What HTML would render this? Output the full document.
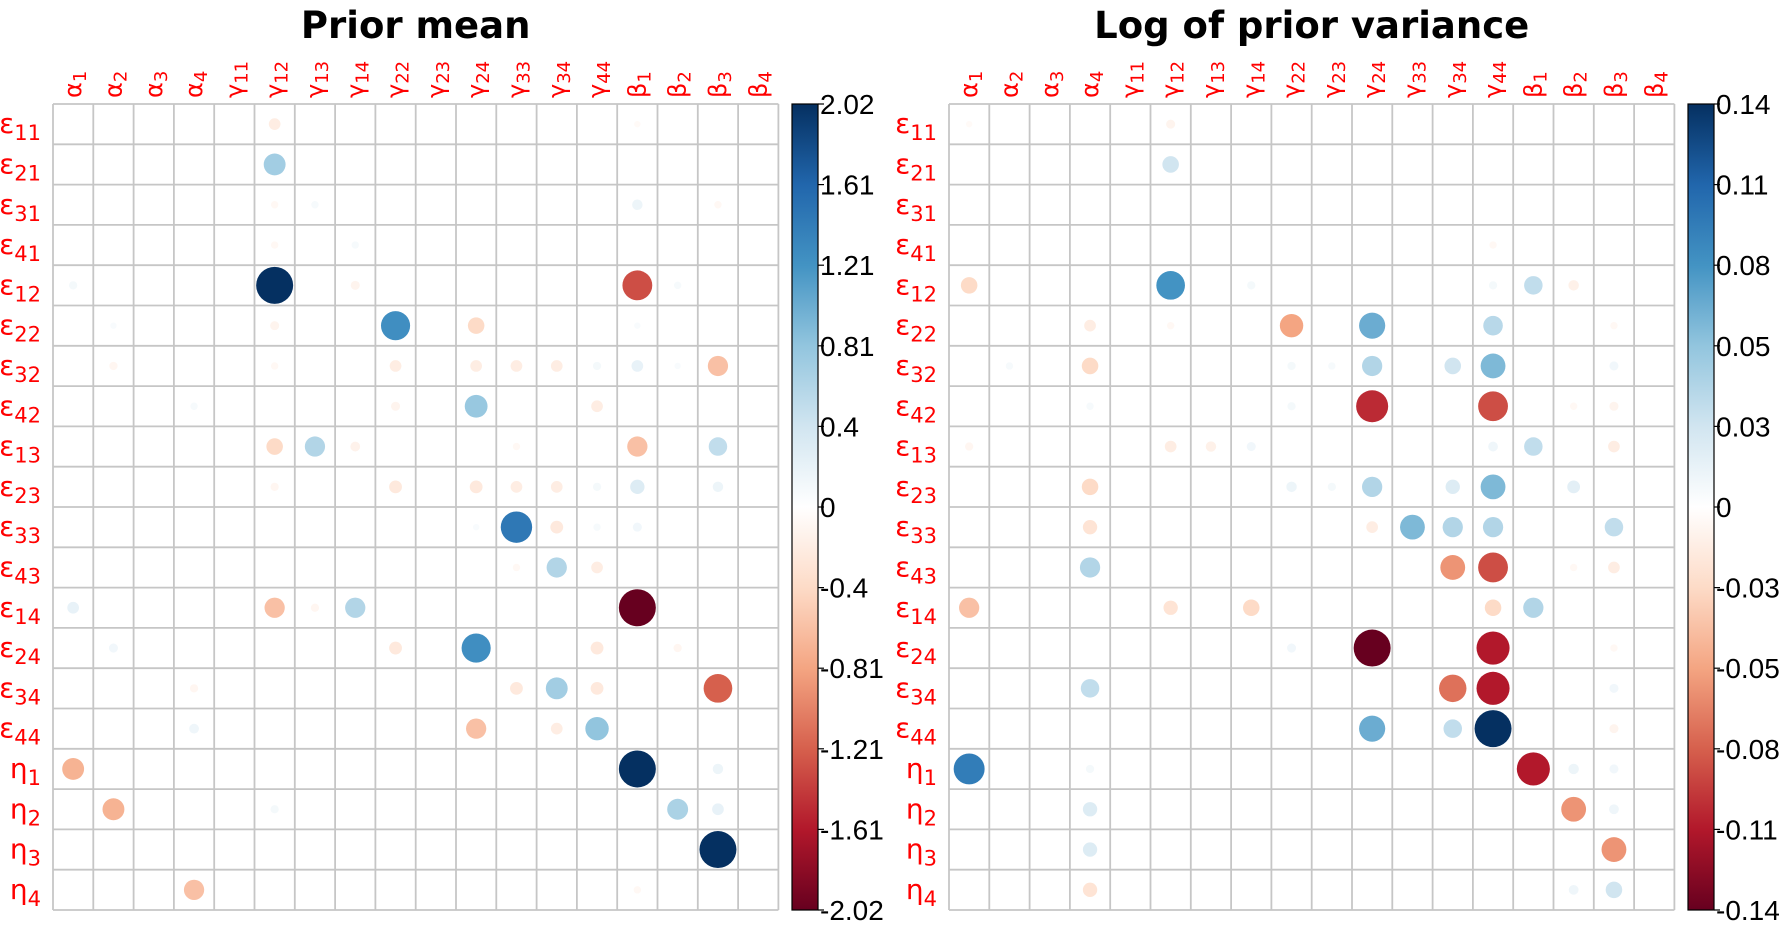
<!DOCTYPE html>
<html><head><meta charset="utf-8"><style>
html,body{margin:0;padding:0;background:#fff;}
svg{display:block;}
.c{fill:#ff0000;font-family:"DejaVu Sans","Liberation Sans",sans-serif;font-size:24px;}
.c tspan{font-size:18px;}
</style></head><body>
<svg id="s" width="1789" height="925" xmlns="http://www.w3.org/2000/svg">
<text class="c" transform="translate(81.2,98) rotate(-90)">α<tspan dy="5">1</tspan></text>
<text class="c" transform="translate(121.5,98) rotate(-90)">α<tspan dy="5">2</tspan></text>
<text class="c" transform="translate(161.8,98) rotate(-90)">α<tspan dy="5">3</tspan></text>
<text class="c" transform="translate(202.1,98) rotate(-90)">α<tspan dy="5">4</tspan></text>
<text class="c" transform="translate(242.4,98) rotate(-90)">γ<tspan dy="5">11</tspan></text>
<text class="c" transform="translate(282.7,98) rotate(-90)">γ<tspan dy="5">12</tspan></text>
<text class="c" transform="translate(323.0,98) rotate(-90)">γ<tspan dy="5">13</tspan></text>
<text class="c" transform="translate(363.3,98) rotate(-90)">γ<tspan dy="5">14</tspan></text>
<text class="c" transform="translate(403.6,98) rotate(-90)">γ<tspan dy="5">22</tspan></text>
<text class="c" transform="translate(443.9,98) rotate(-90)">γ<tspan dy="5">23</tspan></text>
<text class="c" transform="translate(484.2,98) rotate(-90)">γ<tspan dy="5">24</tspan></text>
<text class="c" transform="translate(524.5,98) rotate(-90)">γ<tspan dy="5">33</tspan></text>
<text class="c" transform="translate(564.8,98) rotate(-90)">γ<tspan dy="5">34</tspan></text>
<text class="c" transform="translate(605.1,98) rotate(-90)">γ<tspan dy="5">44</tspan></text>
<text class="c" transform="translate(645.4,98) rotate(-90)">β<tspan dy="5">1</tspan></text>
<text class="c" transform="translate(685.7,98) rotate(-90)">β<tspan dy="5">2</tspan></text>
<text class="c" transform="translate(726.0,98) rotate(-90)">β<tspan dy="5">3</tspan></text>
<text class="c" transform="translate(766.3,98) rotate(-90)">β<tspan dy="5">4</tspan></text>
<text class="c" transform="translate(977.2,98) rotate(-90)">α<tspan dy="5">1</tspan></text>
<text class="c" transform="translate(1017.5,98) rotate(-90)">α<tspan dy="5">2</tspan></text>
<text class="c" transform="translate(1057.8,98) rotate(-90)">α<tspan dy="5">3</tspan></text>
<text class="c" transform="translate(1098.1,98) rotate(-90)">α<tspan dy="5">4</tspan></text>
<text class="c" transform="translate(1138.4,98) rotate(-90)">γ<tspan dy="5">11</tspan></text>
<text class="c" transform="translate(1178.7,98) rotate(-90)">γ<tspan dy="5">12</tspan></text>
<text class="c" transform="translate(1219.0,98) rotate(-90)">γ<tspan dy="5">13</tspan></text>
<text class="c" transform="translate(1259.3,98) rotate(-90)">γ<tspan dy="5">14</tspan></text>
<text class="c" transform="translate(1299.6,98) rotate(-90)">γ<tspan dy="5">22</tspan></text>
<text class="c" transform="translate(1339.9,98) rotate(-90)">γ<tspan dy="5">23</tspan></text>
<text class="c" transform="translate(1380.2,98) rotate(-90)">γ<tspan dy="5">24</tspan></text>
<text class="c" transform="translate(1420.5,98) rotate(-90)">γ<tspan dy="5">33</tspan></text>
<text class="c" transform="translate(1460.8,98) rotate(-90)">γ<tspan dy="5">34</tspan></text>
<text class="c" transform="translate(1501.1,98) rotate(-90)">γ<tspan dy="5">44</tspan></text>
<text class="c" transform="translate(1541.4,98) rotate(-90)">β<tspan dy="5">1</tspan></text>
<text class="c" transform="translate(1581.7,98) rotate(-90)">β<tspan dy="5">2</tspan></text>
<text class="c" transform="translate(1622.0,98) rotate(-90)">β<tspan dy="5">3</tspan></text>
<text class="c" transform="translate(1662.3,98) rotate(-90)">β<tspan dy="5">4</tspan></text>
</svg>
<script>
const S=document.getElementById('s');
const NS='http://www.w3.org/2000/svg';
function el(t,a,txt,par){const e=document.createElementNS(NS,t);for(const k in a)e.setAttribute(k,a[k]);if(txt!==undefined)e.textContent=txt;(par||S).appendChild(e);return e;}
const pal=['#67001F','#B2182B','#D6604D','#F4A582','#FDDBC7','#FFFFFF','#D1E5F0','#92C5DE','#4393C3','#2166AC','#053061'];
function hex(h){return [parseInt(h.substr(1,2),16),parseInt(h.substr(3,2),16),parseInt(h.substr(5,2),16)];}
function col(v){
 let t=(v+1)/2*10;let i=Math.min(9,Math.floor(t));let f=t-i;let a=hex(pal[i]),b=hex(pal[i+1]);
 return 'rgb('+a.map((x,k)=>Math.round(x+(b[k]-x)*f)).join(',')+')';}
const rows=[['ε','11'],['ε','21'],['ε','31'],['ε','41'],['ε','12'],['ε','22'],['ε','32'],['ε','42'],['ε','13'],['ε','23'],['ε','33'],['ε','43'],['ε','14'],['ε','24'],['ε','34'],['ε','44'],['η','1'],['η','2'],['η','3'],['η','4']];
const T=104,B=910,cs=40.3;
const L=[[0,5,-.1],[0,14,-.03],[1,5,.35],[2,5,-.04],[2,6,.04],[2,14,.08],[2,16,-.04],[3,5,-.04],[3,7,.04],
[4,0,.05],[4,5,1],[4,7,-.06],[4,14,-.65],[4,15,.04],
[5,1,.03],[5,5,-.06],[5,8,.62],[5,10,-.2],[5,14,.03],
[6,1,-.05],[6,5,-.04],[6,8,-.1],[6,10,-.1],[6,11,-.1],[6,12,-.1],[6,13,.05],[6,14,.1],[6,15,.03],[6,16,-.3],
[7,3,.04],[7,8,-.06],[7,10,.38],[7,13,-.1],
[8,5,-.2],[8,6,.3],[8,7,-.07],[8,11,-.04],[8,14,-.3],[8,16,.25],
[9,5,-.05],[9,8,-.12],[9,10,-.12],[9,11,-.1],[9,12,-.1],[9,13,.05],[9,14,.15],[9,16,.08],
[10,10,.03],[10,11,.72],[10,12,-.12],[10,13,.04],[10,14,.06],
[11,11,-.04],[11,12,.3],[11,13,-.1],
[12,0,.1],[12,5,-.3],[12,6,-.05],[12,7,.3],[12,14,-1],
[13,1,.06],[13,8,-.12],[13,10,.62],[13,13,-.12],[13,15,-.05],
[14,3,-.05],[14,11,-.12],[14,12,.35],[14,13,-.12],[14,16,-.6],
[15,3,.07],[15,10,-.3],[15,12,-.1],[15,13,.4],
[16,0,-.35],[16,14,1],[16,16,.08],
[17,1,-.35],[17,5,.05],[17,15,.32],[17,16,.1],
[18,16,1],[19,3,-.3],[19,14,-.04]];
const R=[[0,0,-.03],[0,5,-.06],[1,5,.2],[3,13,-.04],
[4,0,-.2],[4,5,.6],[4,7,.05],[4,13,.05],[4,14,.25],[4,15,-.08],
[5,3,-.1],[5,5,-.04],[5,8,-.4],[5,10,.5],[5,13,.28],[5,16,-.04],
[6,1,.04],[6,3,-.2],[6,8,.05],[6,9,.04],[6,10,.3],[6,12,.2],[6,13,.45],[6,16,.06],
[7,3,.04],[7,8,.05],[7,10,-.75],[7,13,-.65],[7,15,-.04],[7,16,-.06],
[8,0,-.05],[8,5,-.1],[8,6,-.08],[8,7,.06],[8,13,.07],[8,14,.25],[8,16,-.1],
[9,3,-.2],[9,8,.08],[9,9,.05],[9,10,.3],[9,12,.15],[9,13,.45],[9,15,.12],
[10,3,-.15],[10,10,-.1],[10,11,.45],[10,12,.3],[10,13,.3],[10,16,.25],
[11,3,.3],[11,12,-.45],[11,13,-.65],[11,15,-.04],[11,16,-.1],
[12,0,-.3],[12,5,-.15],[12,7,-.2],[12,13,-.2],[12,14,.3],
[13,8,.06],[13,10,-1],[13,13,-.8],[13,16,-.04],
[14,3,.25],[14,12,-.55],[14,13,-.8],[14,16,.06],
[15,10,.5],[15,12,.25],[15,13,1],[15,16,-.06],
[16,0,.7],[16,3,.05],[16,14,-.8],[16,15,.08],[16,16,.06],
[17,3,.15],[17,15,-.45],[17,16,.07],
[18,3,.15],[18,16,-.45],
[19,3,-.15],[19,15,.07],[19,16,.2]];
function panel(x0,title,data,cbx,ticks){
 const W=cs*18;
 el('text',{x:x0+W/2,y:38,'text-anchor':'middle','font-family':'DejaVu Sans, Liberation Sans, sans-serif','font-weight':'bold','font-size':'37'},title);
 for(let i=0;i<=18;i++)el('line',{x1:x0+i*cs,y1:T,x2:x0+i*cs,y2:B,stroke:'#c6c6c6','stroke-width':1.8});
 for(let j=0;j<=20;j++)el('line',{x1:x0,y1:T+j*cs,x2:x0+W,y2:T+j*cs,stroke:'#c6c6c6','stroke-width':1.8});
 rows.forEach((r,j)=>{const cy=T+j*cs+cs/2+9;
  const t=el('text',{x:x0-12,y:cy,'text-anchor':'end',fill:'#ff0000','font-family':'DejaVu Sans, Liberation Sans, sans-serif','font-size':'28'});
  el('tspan',{},r[0],t);el('tspan',{'font-size':'21',dy:'7'},r[1],t);});
 data.forEach(d=>{const m=Math.abs(d[2]);
  el('circle',{cx:x0+d[1]*cs+cs/2,cy:T+d[0]*cs+cs/2,r:18.5*Math.sqrt(m),fill:col(d[2])});});
 const gid='g'+cbx;
 const defs=el('defs',{});
 const g=document.createElementNS(NS,'linearGradient');g.setAttribute('id',gid);g.setAttribute('x1','0');g.setAttribute('y1','0');g.setAttribute('x2','0');g.setAttribute('y2','1');
 pal.slice().reverse().forEach((c,i)=>{const s=document.createElementNS(NS,'stop');s.setAttribute('offset',i/10);s.setAttribute('stop-color',c);g.appendChild(s);});
 defs.appendChild(g);
 el('rect',{x:cbx,y:T,width:26,height:B-T,fill:`url(#${gid})`,stroke:'#000','stroke-width':1.2});
 ticks.forEach((tk,i)=>{const y=T+i*(B-T)/10;
  el('line',{x1:cbx+26,y1:y,x2:cbx+32,y2:y,stroke:'#000','stroke-width':1.2});
  el('text',{x:cbx+28,y:y+10,'font-family':'Liberation Sans, sans-serif','font-size':'28',fill:'#000'},tk);});
}
panel(53,'Prior mean',L,792,['2.02','1.61','1.21','0.81','0.4','0','-0.4','-0.81','-1.21','-1.61','-2.02']);
panel(949,'Log of prior variance',R,1688,['0.14','0.11','0.08','0.05','0.03','0','-0.03','-0.05','-0.08','-0.11','-0.14']);
</script>
</body></html>
